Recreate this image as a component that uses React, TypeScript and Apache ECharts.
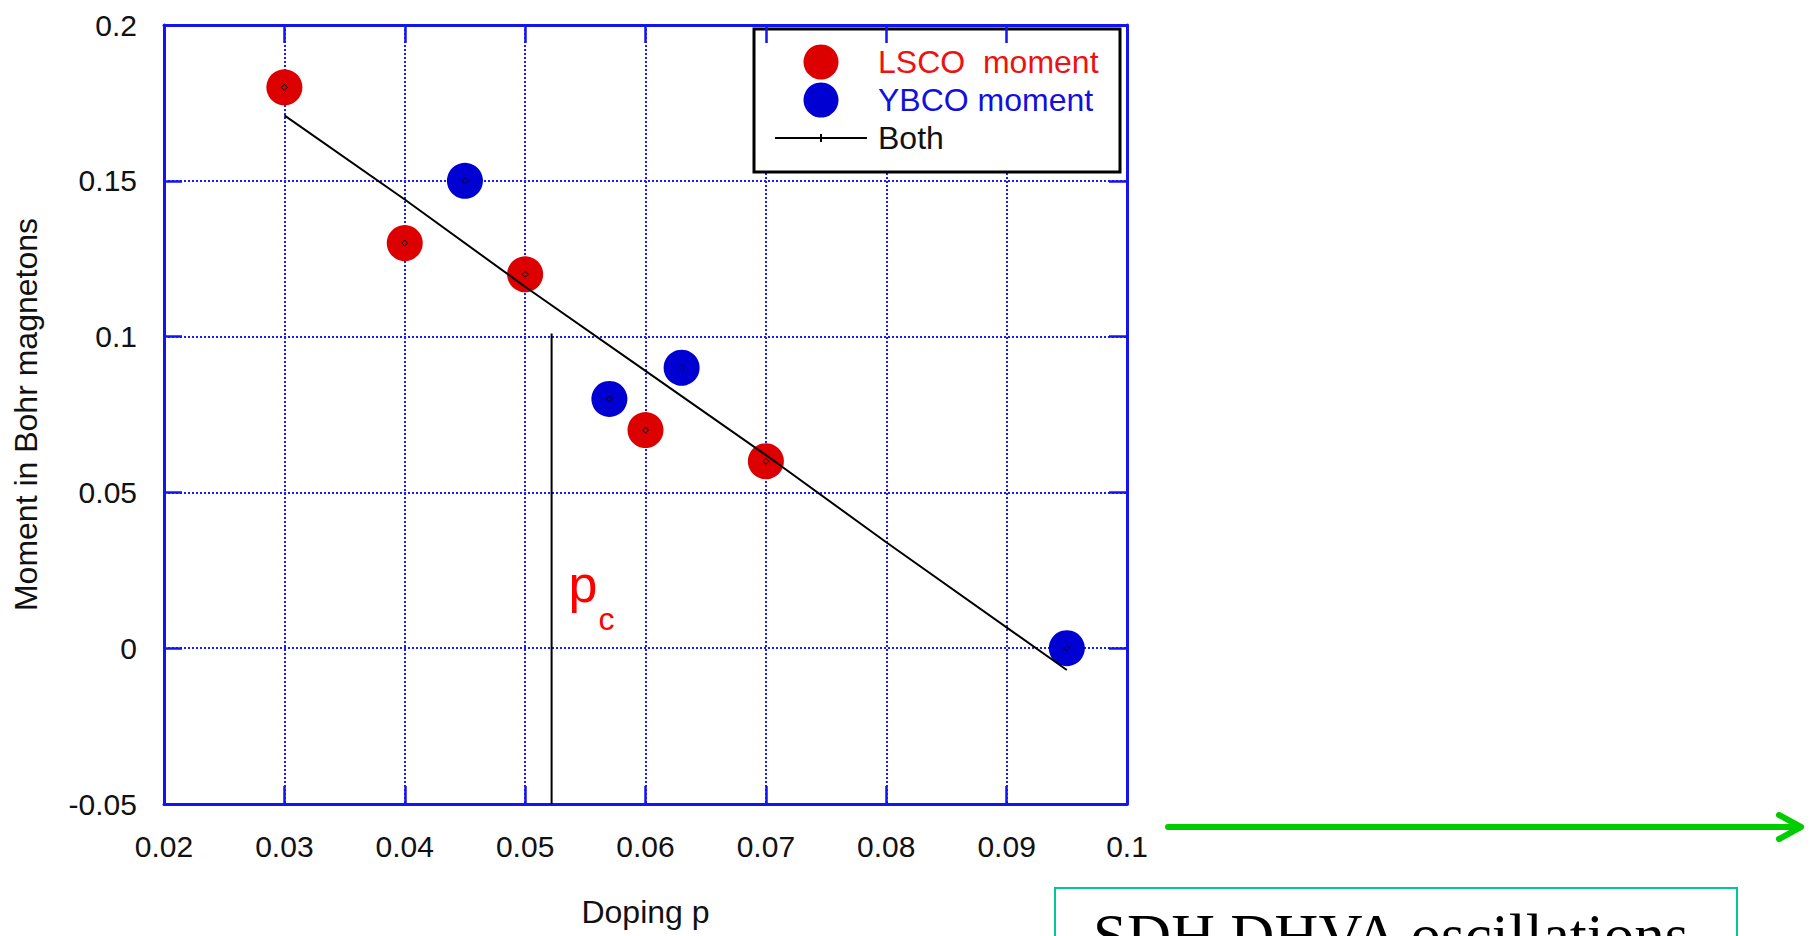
import React, { useEffect, useRef } from "react";
import * as echarts from "echarts";

// Measured magnetic moment vs hole doping
const lscoDoping = [0.03, 0.04, 0.05, 0.06, 0.07];
const lscoMoment = [0.18, 0.13, 0.12, 0.07, 0.06];
const ybcoDoping = [0.045, 0.057, 0.063, 0.095];
const ybcoMoment = [0.15, 0.08, 0.09, 0];

// Straight-line fit through both data sets
const fitDoping = [0.03, 0.04, 0.05, 0.06, 0.07, 0.08, 0.095];
const fitMoment = [0.171, 0.144, 0.116, 0.089, 0.062, 0.034, -0.007];

// Critical doping marker
const pcDoping = 0.0522;
const pcMoment = [0.101, -0.05];

const xTickLabels = ["0.02", "0.03", "0.04", "0.05", "0.06", "0.07", "0.08", "0.09", "0.1"];
const yTickLabels = ["-0.05", "0", "0.05", "0.1", "0.15", "0.2"];

const legendNames = ["LSCO  moment", "YBCO moment", "Both"];

const FONT = "'Liberation Sans', Arial, sans-serif";
const FRAME = "#1414f0";
const RED = "#dd0000";
const BLUE = "#0000d2";
const GREEN = "#00cc00";

const pairs = (xs: number[], ys: number[]) => xs.map((x, i) => [x, ys[i]]);

export default function App() {
  const ref = useRef<HTMLDivElement>(null);

  useEffect(() => {
    if (!ref.current) return;
    const chart = echarts.init(ref.current, null, { renderer: "svg" });

    const xLabel = (v: number) => {
      const i = Math.round((v - 0.02) / 0.01);
      return xTickLabels[i] ?? "";
    };
    const yLabel = (v: number) => {
      const i = Math.round((v + 0.05) / 0.05);
      return yTickLabels[i] ?? "";
    };

    const frameAxis = {
      axisLine: { show: true, onZero: false, lineStyle: { color: FRAME, width: 3 } },
      axisTick: { show: true, inside: true, length: 18, lineStyle: { color: FRAME, width: 2.5 } },
    };
    const dotted = { show: true, lineStyle: { color: "#1a1aff", width: 2, type: [2, 2] as any } };

    const centerDot = (data: number[][]) => ({
      type: "scatter",
      data,
      symbol: "diamond",
      symbolSize: 6,
      silent: true,
      z: 4,
      itemStyle: { color: "rgba(0,0,0,0)", borderColor: "#000", borderWidth: 1, opacity: 1 },
    });

    chart.setOption({
      animation: false,
      backgroundColor: "#ffffff",
      grid: { left: 164, top: 25, width: 963, height: 779 },
      xAxis: [
        {
          type: "value",
          min: 0.02,
          max: 0.1,
          interval: 0.01,
          position: "bottom",
          ...frameAxis,
          splitLine: dotted,
          axisLabel: { formatter: xLabel, color: "#111", fontSize: 30, fontFamily: FONT, margin: 27 },
          name: "Doping p",
          nameLocation: "middle",
          nameGap: 92,
          nameTextStyle: { color: "#111", fontSize: 32, fontFamily: FONT },
        },
        {
          type: "value",
          min: 0.02,
          max: 0.1,
          interval: 0.01,
          position: "top",
          ...frameAxis,
          splitLine: { show: false },
          axisLabel: { show: false },
        },
      ],
      yAxis: [
        {
          type: "value",
          min: -0.05,
          max: 0.2,
          interval: 0.05,
          position: "left",
          ...frameAxis,
          splitLine: dotted,
          axisLabel: { formatter: yLabel, color: "#111", fontSize: 30, fontFamily: FONT, margin: 27 },
          name: "Moment in Bohr magnetons",
          nameLocation: "middle",
          nameGap: 122,
          nameTextStyle: { color: "#111", fontSize: 32, fontFamily: FONT },
        },
        {
          type: "value",
          min: -0.05,
          max: 0.2,
          interval: 0.05,
          position: "right",
          ...frameAxis,
          splitLine: { show: false },
          axisLabel: { show: false },
        },
      ],
      series: [
        {
          name: legendNames[0],
          type: "scatter",
          data: pairs(lscoDoping, lscoMoment),
          symbol: "circle",
          symbolSize: 36,
          itemStyle: { color: RED, opacity: 1 },
          z: 3,
        },
        {
          name: legendNames[1],
          type: "scatter",
          data: pairs(ybcoDoping, ybcoMoment),
          symbol: "circle",
          symbolSize: 36,
          itemStyle: { color: BLUE, opacity: 1 },
          z: 3,
        },
        centerDot(pairs(lscoDoping, lscoMoment)),
        centerDot(pairs(ybcoDoping, ybcoMoment)),
        {
          name: legendNames[2],
          type: "line",
          data: pairs(fitDoping, fitMoment),
          showSymbol: false,
          lineStyle: { color: "#000", width: 2 },
          z: 5,
        },
        {
          type: "line",
          data: pcMoment.map((m) => [pcDoping, m]),
          showSymbol: false,
          lineStyle: { color: "#000", width: 2 },
          z: 5,
        },
      ],
    });

    // Annotations positioned from the axis scales
    const pcBase = chart.convertToPixel({ gridIndex: 0 }, [pcDoping, 0]) as number[];
    const px = pcBase[0];
    const zeroY = pcBase[1];

    chart.setOption({
      graphic: [
        // p_c label next to the critical doping line
        {
          type: "text",
          x: px + 17,
          y: zeroY - 64,
          style: { text: "p", fill: "#ff0000", fontSize: 52, fontFamily: FONT, verticalAlign: "middle" },
          z: 10,
        },
        {
          type: "text",
          x: px + 47,
          y: zeroY - 29,
          style: { text: "c", fill: "#ff0000", fontSize: 32, fontFamily: FONT, verticalAlign: "middle" },
          z: 10,
        },
        // legend box
        {
          type: "group",
          x: 754,
          y: 29,
          z: 20,
          children: [
            {
              type: "rect",
              shape: { x: 0, y: 0, width: 366, height: 143 },
              style: { fill: "#fff", stroke: "#000", lineWidth: 3 },
            },
            { type: "circle", shape: { cx: 67, cy: 33, r: 17.5 }, style: { fill: RED } },
            { type: "circle", shape: { cx: 67, cy: 71, r: 17.5 }, style: { fill: BLUE } },
            { type: "line", shape: { x1: 21, y1: 109, x2: 113, y2: 109 }, style: { stroke: "#000", lineWidth: 2 } },
            { type: "line", shape: { x1: 67, y1: 105, x2: 67, y2: 113 }, style: { stroke: "#000", lineWidth: 2 } },
            {
              type: "text",
              x: 124,
              y: 33,
              style: { text: legendNames[0], fill: "#ee1111", fontSize: 32, fontFamily: FONT, verticalAlign: "middle" },
            },
            {
              type: "text",
              x: 124,
              y: 71,
              style: { text: legendNames[1], fill: "#1111dd", fontSize: 32, fontFamily: FONT, verticalAlign: "middle" },
            },
            {
              type: "text",
              x: 124,
              y: 109,
              style: { text: legendNames[2], fill: "#111", fontSize: 32, fontFamily: FONT, verticalAlign: "middle" },
            },
          ],
        },
        // green arrow to the right of the plot
        {
          type: "line",
          shape: { x1: 1168, y1: 827, x2: 1799, y2: 827 },
          style: { stroke: GREEN, lineWidth: 6, lineCap: "round" },
        },
        {
          type: "polyline",
          shape: { points: [[1779, 815], [1801, 827], [1779, 839]] },
          style: { stroke: GREEN, lineWidth: 6, lineCap: "round", lineJoin: "round", fill: "none" },
        },
        // caption box (runs off the bottom edge)
        {
          type: "rect",
          shape: { x: 1055, y: 888, width: 682, height: 80 },
          style: { fill: "#fff", stroke: "#00c896", lineWidth: 2 },
        },
        {
          type: "text",
          x: 1093,
          y: 935,
          style: {
            text: "SDH DHVA oscillations",
            fill: "#000",
            fontSize: 61,
            fontFamily: "'Liberation Serif', 'Times New Roman', serif",
            verticalAlign: "middle",
          },
        },
      ],
    });

    return () => chart.dispose();
  }, []);

  return (
    <div
      ref={ref}
      style={{ position: "absolute", left: 0, top: 0, width: 1814, height: 936, background: "#fff" }}
    />
  );
}
